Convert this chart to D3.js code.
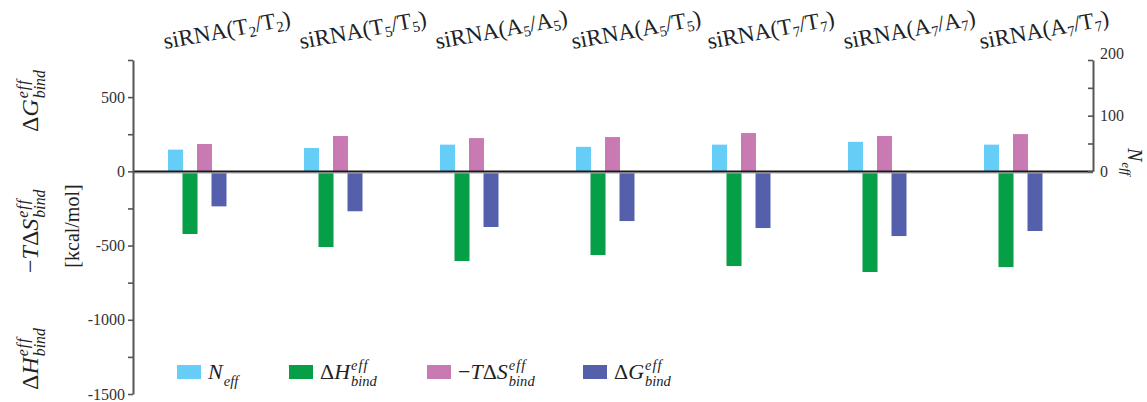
<!DOCTYPE html>
<html>
<head>
<meta charset="utf-8">
<script src="https://cdn.jsdelivr.net/npm/d3@7"></script>
<style>
  body { margin: 0; background: #fff; }
  svg { font-family: 'Liberation Serif', 'DejaVu Serif', serif; }
</style>
</head>
<body>
<svg width="1147" height="402"></svg>
<script>
// data
const categories = ['siRNA(T2/T2)', 'siRNA(T5/T5)', 'siRNA(A5/A5)', 'siRNA(A5/T5)', 'siRNA(T7/T7)', 'siRNA(A7/A7)', 'siRNA(A7/T7)'];
const nEff   = [39, 42, 48, 44, 48, 53, 48];          // right axis
const dH     = [-422, -510, -604, -564, -638, -678, -645];
const mTdS   = [184, 238, 224, 231, 258, 238, 251];
const dG     = [-236, -269, -375, -335, -382, -436, -402];
const leftTicks  = d3.range(-1500, 751, 250);
const rightTicks = [0, 50, 100, 150, 200];

const keys = ['n', 'h', 's', 'g'];
const colors = { n: '#66cdf6', h: '#079e48', s: '#c97ab2', g: '#5460ab' };

const svg = d3.select('svg');

let yL = d3.scaleLinear().domain([-1500, 750]).range([394, 60]);
let yR = d3.scaleLinear().domain([0, 200]).range([yL(0), yL(750)]);
let x0 = d3.scaleBand().domain(categories).range([168, 168 + 136 * categories.length]);
let x1 = d3.scaleBand().domain(keys).range([0, 58]);

let rows = categories.map((c, i) => ({ c: c, n: nEff[i], h: dH[i], s: mTdS[i], g: dG[i] }));

// bars
let grp = svg.append('g')
  .selectAll('g')
  .data(rows)
  .enter().append('g')
  .attr('transform', d => `translate(${x0(d.c)},0)`);

grp.selectAll('rect')
  .data(d => keys.map(k => ({ k: k, v: d[k] })))
  .enter().append('rect')
  .attr('x', d => x1(d.k))
  .attr('width', x1.bandwidth() + 0.5)
  .attr('y', d => {
    let y = d.k === 'n' ? yR : yL;
    return Math.min(y(d.v), y(0));
  })
  .attr('height', d => {
    let y = d.k === 'n' ? yR : yL;
    return Math.abs(y(d.v) - y(0));
  })
  .attr('fill', d => colors[d.k]);

// zero line
svg.append('line')
  .attr('x1', 133).attr('x2', 1093)
  .attr('y1', yL(0) + 1.3).attr('y2', yL(0) + 1.3)
  .attr('stroke', '#aaa').attr('stroke-width', 1.5);
svg.append('line')
  .attr('x1', 133).attr('x2', 1093)
  .attr('y1', yL(0)).attr('y2', yL(0))
  .attr('stroke', '#1a1a1a').attr('stroke-width', 1.6);

// left axis
let axL = svg.append('g')
  .attr('transform', 'translate(133,0)')
  .call(d3.axisLeft(yL)
    .tickValues(leftTicks)
    .tickSize(5)
    .tickSizeOuter(0)
    .tickPadding(3)
    .tickFormat(d => (d % 500 === 0 && d !== 750) ? String(d) : ''));

// right axis
let axR = svg.append('g')
  .attr('transform', 'translate(1093,0)')
  .call(d3.axisRight(yR)
    .tickValues(rightTicks)
    .tickSize(-5)
    .tickSizeOuter(0)
    .tickPadding(7)
    .tickFormat(d => d % 100 === 0 ? String(d) : ''));

[axL, axR].forEach(a => {
  a.select('.domain').attr('stroke', '#555').attr('stroke-width', 2);
  a.selectAll('.tick line').attr('stroke', '#555').attr('stroke-width', 1.6);
  a.selectAll('.tick text')
    .attr('font-family', "'Liberation Serif', serif")
    .attr('font-size', 16).attr('fill', '#333');
});
axR.selectAll('.tick text').filter(d => d === 200).attr('dy', '-0.1em');

// category labels with subscripts, tilted
let cat = svg.append('g')
  .selectAll('text')
  .data(categories)
  .enter().append('text')
  .attr('x', d => x0(d) - 3)
  .attr('y', 49)
  .attr('transform', d => `rotate(-10.5,${x0(d) - 3},49)`)
  .attr('font-size', 23)
  .attr('fill', '#222')
  .each(function(d) {
    let t = d3.select(this);
    d.split(/(\d)/).filter(s => s.length).forEach(s => {
      if (/\d/.test(s)) {
        t.append('tspan').attr('font-size', 15).attr('dy', 4).text(s);
        t.append('tspan').attr('dy', -4).text('\u200b');
      } else {
        t.append('tspan').text(s);
      }
    });
  });

// math label: base text with stacked superscript / subscript
function mathLabel(parent, base, sup, sub, size) {
  let t = parent.append('text').attr('font-size', size).attr('fill', '#222');
  base.forEach(p => t.append('tspan').attr('font-style', p[1] ? 'italic' : 'normal').text(p[0]));
  let w = t.node().getComputedTextLength();
  let ss = size * 0.66;
  if (sup) parent.append('text').attr('x', w + 1).attr('y', -size * 0.42)
    .attr('font-size', ss).attr('font-style', 'italic').attr('letter-spacing', 1).attr('fill', '#222').text(sup);
  if (sub) parent.append('text').attr('x', w + 1).attr('y', size * 0.3)
    .attr('font-size', ss).attr('font-style', 'italic').attr('fill', '#222').text(sub);
}

mathLabel(svg.append('g').attr('transform', 'translate(38,132) rotate(-90)'),
  [['Δ', false], ['G', true]], 'eff', 'bind', 24);
mathLabel(svg.append('g').attr('transform', 'translate(38,273) rotate(-90)'),
  [['−', false], ['T', true], ['Δ', false], ['S', true]], 'eff', 'bind', 24);
mathLabel(svg.append('g').attr('transform', 'translate(38,390) rotate(-90)'),
  [['Δ', false], ['H', true]], 'eff', 'bind', 24);

svg.append('text')
  .attr('transform', 'translate(79,226) rotate(-90)')
  .attr('text-anchor', 'middle')
  .attr('font-size', 20).attr('fill', '#222')
  .text('[kcal/mol]');

mathLabel(svg.append('g').attr('transform', 'translate(1128,148) rotate(90)'),
  [['N', true]], null, 'eff', 20);

// legend
let legendItems = [
  { k: 'n', x: 177, base: [['N', true]], sup: null, sub: 'eff' },
  { k: 'h', x: 289, base: [['Δ', false], ['H', true]], sup: 'eff', sub: 'bind' },
  { k: 's', x: 427, base: [['−', false], ['T', true], ['Δ', false], ['S', true]], sup: 'eff', sub: 'bind' },
  { k: 'g', x: 583, base: [['Δ', false], ['G', true]], sup: 'eff', sub: 'bind' }
];
legendItems.forEach(it => {
  svg.append('rect').attr('x', it.x).attr('y', 365).attr('width', 24).attr('height', 14)
    .attr('fill', colors[it.k]);
  mathLabel(svg.append('g').attr('transform', `translate(${it.x + 31},379)`),
    it.base, it.sup, it.sub, 22);
});
</script>
</body>
</html>
